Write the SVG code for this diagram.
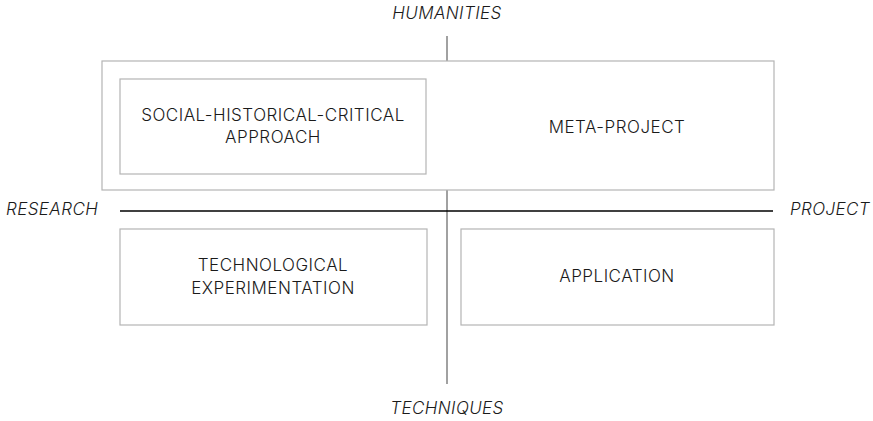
<svg xmlns="http://www.w3.org/2000/svg" width="873" height="421" viewBox="0 0 873 421">
<style>
.box{fill:#fff;stroke:#b4b4b4;stroke-width:1.2}
.t{font-family:Inter,"Liberation Sans",sans-serif;font-size:17px;letter-spacing:0.5px;font-weight:300;fill:#1a1a1a;text-anchor:middle}
.ax{font-family:Inter,"Liberation Sans",sans-serif;font-size:17px;letter-spacing:0.4px;font-weight:300;font-style:italic;fill:#1a1a1a}
</style>
<rect width="873" height="421" fill="#fff"/>
<g id="connectors">
<line x1="447" y1="36" x2="447" y2="384" stroke="#8a8a8a" stroke-width="1.6"/>
</g>
<g id="meta-project">
<rect class="box" x="102" y="61" width="672" height="129"/>
<text class="t" x="617" y="133">META-PROJECT</text>
</g>
<g id="axis-h">
<line x1="120" y1="211" x2="773" y2="211" stroke="#000" stroke-width="1.3"/>
</g>
<g id="shc">
<rect class="box" x="120" y="79" width="306" height="95"/>
<text class="t" x="273" y="121">SOCIAL-HISTORICAL-CRITICAL</text>
<text class="t" x="273" y="143">APPROACH</text>
</g>
<g id="tech">
<rect class="box" x="120" y="229" width="307" height="96"/>
<text class="t" x="273" y="271">TECHNOLOGICAL</text>
<text class="t" x="273" y="294">EXPERIMENTATION</text>
</g>
<g id="application">
<rect class="box" x="461" y="229" width="313" height="96"/>
<text class="t" x="617" y="282">APPLICATION</text>
</g>
<g id="labels">
<text class="ax" x="447" y="19" text-anchor="middle">HUMANITIES</text>
<text class="ax" x="6" y="215">RESEARCH</text>
<text class="ax" x="870" y="215" text-anchor="end">PROJECT</text>
<text class="ax" x="447" y="414" text-anchor="middle">TECHNIQUES</text>
</g>
</svg>
